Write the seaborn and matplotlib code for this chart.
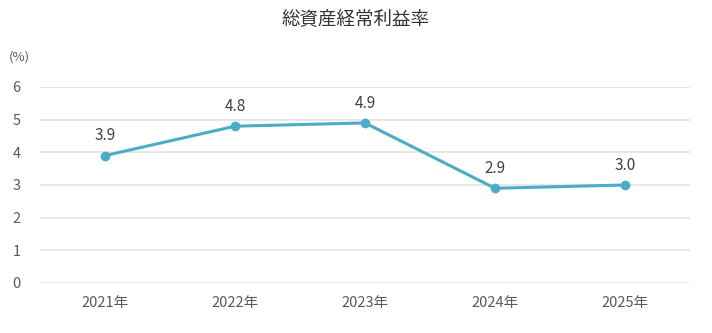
import matplotlib
matplotlib.use("Agg")
import matplotlib.pyplot as plt
import seaborn as sns
import pandas as pd

years = ["2021年", "2022年", "2023年", "2024年", "2025年"]
values = [3.9, 4.8, 4.9, 2.9, 3.0]
yticks = [0, 1, 2, 3, 4, 5, 6]

sns.set_theme(style="white")
plt.rcParams['font.family'] = ['Noto Sans CJK JP', 'DejaVu Sans']

df = pd.DataFrame({"year": years, "value": values})

fig = plt.figure(figsize=(7.12, 3.33), dpi=100)
ax = fig.add_axes([40/712, 50/333, 650/712, 196/333])

line_color = "#4BACC6"
sns.lineplot(data=df, x="year", y="value", ax=ax, color=line_color, lw=2.2,
             marker="o", markersize=7, markeredgewidth=0, sort=False, clip_on=False, zorder=3)

for i, v in enumerate(values):
    ax.annotate(f"{v:.1f}", (i, v), xytext=(0, 8), textcoords="offset points",
                ha="center", va="bottom", fontsize=11, color="#404040")

ax.set_xlim(-0.5, 4.5)
ax.set_ylim(0, 6)
ax.set_yticks(yticks)
ax.set_yticklabels([str(t) for t in yticks])
ax.grid(axis="y", color="#e6e6e6", lw=1.3)
ax.grid(axis="x", visible=False)
for s in ax.spines.values():
    s.set_visible(False)
ax.tick_params(axis="both", length=0, labelsize=10.5, labelcolor="#595959")
ax.tick_params(axis="y", pad=14)
ax.tick_params(axis="x", pad=9)
ax.set_xlabel("")
ax.set_ylabel("")

fig.text(19/712, 1 - 57/333, "(%)", ha="center", va="center", fontsize=9.5, color="#595959")
fig.text(356/712, 1 - 19/333, "総資産経常利益率", ha="center", va="center", fontsize=13.3, color="#333333")

fig.savefig("out.png", dpi=100)
